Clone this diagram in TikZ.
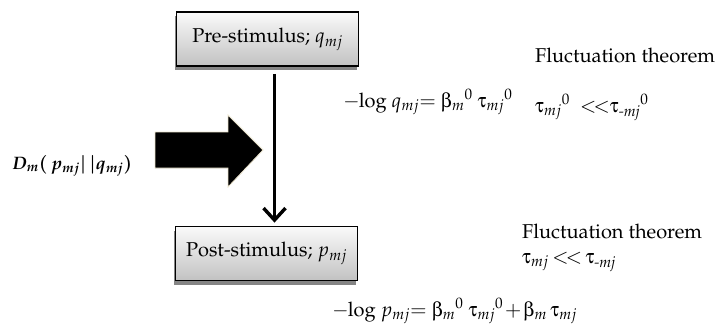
\documentclass[tikz,border=0pt]{standalone}
\usepackage[T1]{fontenc}
\usepackage{mathpazo}
\usepackage{amsmath}
\usepackage[Symbol]{upgreek}
\usetikzlibrary{arrows.meta,shadows}
\definecolor{glow}{RGB}{235,228,205}
\newcommand{\lessless}{{<}\mkern-3mu{<}}
\newcommand{\negsub}{\text{\itshape -mj}}
\newcommand{\minuslog}{\mathord{-}\mkern-1mu\mathrm{log}\ }
\begin{document}
\begin{tikzpicture}[x=1pt,y=-1pt,
  every node/.style={font=\fontsize{20}{24}\selectfont},
  stagebox/.style={draw=black,line width=1.8pt,top color=gray!4,bottom color=gray!48,
    minimum width=182pt,minimum height=54pt,inner sep=0pt,
    drop shadow={shadow xshift=-2pt,shadow yshift=-4pt,opacity=0.6,fill=black!80}},
  lbl/.style={inner sep=0pt,anchor=base west},
  boldlbl/.style={inner sep=0pt,anchor=base west,font=\fontsize{18}{22}\selectfont\mathversion{bold}},
  flow/.style={line width=3.4pt,-{Straight Barb[length=12pt,width=22pt,line width=3.4pt]}}
]
\useasboundingbox (0,0) rectangle (727,332);
\node[stagebox] (pre) at (267.5,39) {Pre-stimulus; $q_{mj}$};
\node[stagebox] (post) at (266.5,253.5) {Post-stimulus; $p_{mj}$};
\node[boldlbl] (dkl) at (12,169) {$D_{m}(\,p_{mj}\vert\,\vert q_{mj})$};
\node[lbl] (logq) at (343,107) {$\minuslog q_{mj}{=}\ \upbeta_m{}^0\ \uptau_{mj}{}^0$};
\node[lbl] (ft1) at (535,62) {Fluctuation theorem};
\node[lbl] (tau1) at (535,112) {$\uptau_{mj}{}^0\ \ \lessless\uptau_{\negsub}{}^0$};
\node[lbl] (ft2) at (522,238) {Fluctuation theorem};
\node[lbl] (tau2) at (522,263) {$\uptau_{mj}\,\lessless\,\uptau_{\negsub}$};
\node[lbl] (logp) at (332,316) {$\minuslog p_{mj}{=}\ \upbeta_m{}^0\ \uptau_{mj}{}^0\mkern-2mu+\mkern-2mu\upbeta_m\,\uptau_{mj}$};
\draw[flow] ([xshift=7pt,yshift=-7pt]pre.south) -- ([xshift=8pt,yshift=3pt]post.north);
\path[fill=black,draw=glow,line width=0.8pt]
  (155,132) -- (228,132) -- (228,115) -- (263,150) -- (228,187) -- (228,168) -- (155,168) -- cycle;
\end{tikzpicture}
\end{document}
